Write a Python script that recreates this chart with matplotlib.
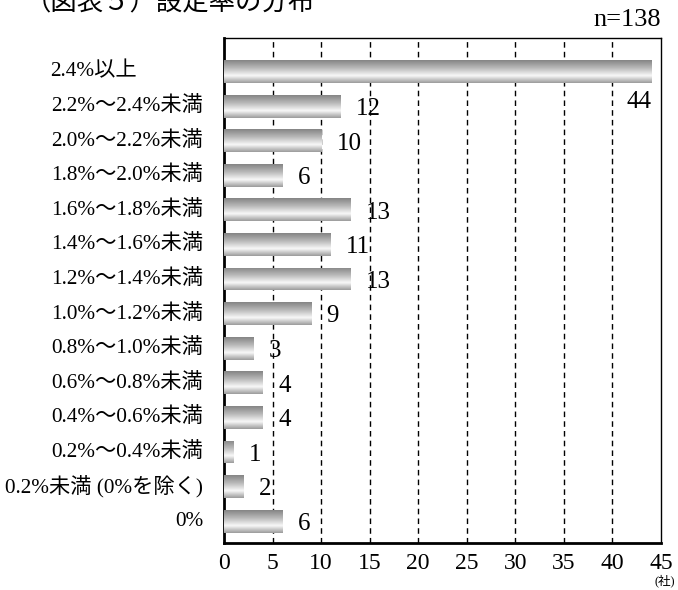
import numpy as np
import matplotlib
matplotlib.use("Agg")
import matplotlib.pyplot as plt
from matplotlib.colors import LinearSegmentedColormap

plt.rcParams["font.family"] = ["Liberation Serif", "Noto Sans CJK JP"]

# 設定率の区分と社数
categories = [
    "2.4%以上", "2.2%～2.4%未満", "2.0%～2.2%未満", "1.8%～2.0%未満",
    "1.6%～1.8%未満", "1.4%～1.6%未満", "1.2%～1.4%未満", "1.0%～1.2%未満",
    "0.8%～1.0%未満", "0.6%～0.8%未満", "0.4%～0.6%未満", "0.2%～0.4%未満",
    "0.2%未満 (0%を除く)", "0%",
]
counts = [44, 12, 10, 6, 13, 11, 13, 9, 3, 4, 4, 1, 2, 6]
x_ticks = [0, 5, 10, 15, 20, 25, 30, 35, 40, 45]
title = "（図表５）設定率の分布"
n_label = "n=138"
unit_label = "(社)"

# 金属調のグラデーション（上下が濃く、中央下寄りが明るい）
metal = LinearSegmentedColormap.from_list(
    "metal",
    [(0.0, "#858585"), (0.35, "#bababa"), (0.68, "#f8f8f8"), (1.0, "#9c9c9c")],
)
grad = np.linspace(0, 1, 64).reshape(-1, 1)

fig = plt.figure(figsize=(6.78, 5.90), dpi=100)
ax = fig.add_axes([224 / 678, 47 / 590, 437 / 678, 505 / 590])

ypos = np.arange(len(categories))
bar_h = 0.66
bars = ax.barh(ypos, counts, height=bar_h, color="none", edgecolor="none", zorder=3)
for b, y, v in zip(bars, ypos, counts):
    im = ax.imshow(grad, cmap=metal, aspect="auto", origin="upper",
                   extent=(0, v, y + bar_h / 2, y - bar_h / 2), zorder=3,
                   interpolation="bilinear")
    im.set_clip_path(b)

ax.set_xlim(0, 45)
ax.set_ylim(13.63, -0.97)

# 縦の破線グリッド
for xv in x_ticks[1:-1]:
    ax.axvline(xv, color="black", linestyle=(0, (4, 3)), linewidth=1.0, zorder=1)

ax.set_xticks(x_ticks)
ax.set_xticklabels([str(t) for t in x_ticks], fontsize=17)
ax.tick_params(axis="x", length=0, pad=7)
ax.set_yticks([])

for side in ["top", "right"]:
    ax.spines[side].set_linewidth(1.0)
for side in ["left", "bottom"]:
    ax.spines[side].set_linewidth(2.0)

# 区分ラベル
for i, (lab, y) in enumerate(zip(categories, ypos)):
    if i == 0:
        ax.text(-0.398, y, lab, transform=ax.get_yaxis_transform(),
                ha="left", va="center", fontsize=15.3)
    else:
        ax.text(-0.048, y, lab, transform=ax.get_yaxis_transform(),
                ha="right", va="center", fontsize=15.3)

# 社数ラベル
for i, (y, v) in enumerate(zip(ypos, counts)):
    if i == 0:
        ax.annotate(str(v), xy=(v, y), xytext=(0, -22), textcoords="offset points",
                    ha="right", va="center", fontsize=18)
    else:
        ax.annotate(str(v), xy=(v, y), xytext=(11, -2), textcoords="offset points",
                    ha="left", va="center", fontsize=18)

fig.text(661 / 678, 1 - 20 / 590, n_label, ha="right", va="center", fontsize=19)
fig.text(665 / 678, 1 - 581 / 590, unit_label, ha="center", va="center",
         fontsize=9, family=["Liberation Serif", "Noto Sans CJK JP"])
fig.text(25 / 678, 1 - 10 / 590, title, ha="left", va="baseline", fontsize=19,
         family=["Noto Sans CJK JP"])

fig.savefig("out.png", dpi=100)
